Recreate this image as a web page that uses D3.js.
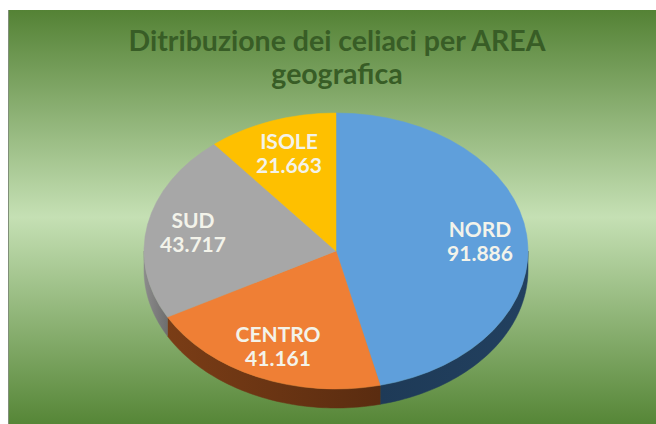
<!DOCTYPE html>
<html><head><meta charset="utf-8">
<script src="https://cdn.jsdelivr.net/npm/d3@7"></script>
<style>html,body{margin:0;padding:0;background:#fff;}svg{display:block;}</style>
</head><body>
<svg id="c" width="656" height="424"></svg>
<script>
const categories = ["NORD", "CENTRO", "SUD", "ISOLE"];
const values = [91.886, 41.161, 43.717, 21.663];
const valueLabels = ["91.886", "41.161", "43.717", "21.663"];
const topColors = ["#5f9fdb", "#ef7f35", "#a7a7a7", "#fec000"];
const sideColors = [["#1e3a57", "#22405f"], ["#7a3d16", "#5a2c10"], ["#8c8c8c", "#6e6e6e"], ["#b38600", "#8a6800"]];
const titleLines = ["Ditribuzione dei celiaci per AREA", "geografica"];

(function () {
const W = 656, H = 424;
const svg = d3.select("#c");
const defs = svg.append("defs");

const bg = defs.append("linearGradient").attr("id", "bg").attr("x1", 0).attr("y1", 0).attr("x2", 0).attr("y2", 1);
bg.append("stop").attr("offset", "0%").attr("stop-color", "#548235");
bg.append("stop").attr("offset", "50%").attr("stop-color", "#c5e0b4");
bg.append("stop").attr("offset", "100%").attr("stop-color", "#568637");
svg.append("rect").attr("x", 8).attr("y", 10).attr("width", W - 8).attr("height", H - 10).attr("fill", "url(#bg)");
svg.append("line").attr("x1", 8.5).attr("x2", 8.5).attr("y1", 10).attr("y2", H).attr("stroke", "#7f8f78").attr("stroke-width", 1);

const title = svg.append("text").attr("text-anchor", "middle")
  .style("font-family", "Lato, 'Open Sans', sans-serif").style("font-weight", "bold")
  .style("font-size", "28.5px").attr("fill", "#385d26");
titleLines.forEach((t, i) => title.append("tspan").attr("x", 337).attr("y", 51 + i * 33).text(t));

const cx = 336, cy = 251, rx = 192, ry = 138, depth = 19;
const pie = d3.pie().sort(null).value(d => d);
const arcs = pie(values);

const g = svg.append("g");

function ept(a, dy) { return [cx + rx * Math.sin(a), cy - ry * Math.cos(a) + dy]; }
arcs.forEach((a, i) => {
  const s = Math.max(a.startAngle, Math.PI / 2), e = Math.min(a.endAngle, 3 * Math.PI / 2);
  if (e <= s) return;
  const gid = "side" + i;
  const lg = defs.append("linearGradient").attr("id", gid).attr("gradientUnits", "userSpaceOnUse")
    .attr("x1", ept(s, 0)[0]).attr("x2", ept(e, 0)[0]).attr("y1", 0).attr("y2", 0);
  lg.append("stop").attr("offset", "0%").attr("stop-color", sideColors[i][1]);
  lg.append("stop").attr("offset", "100%").attr("stop-color", sideColors[i][0]);
  const n = 60, pts = [];
  for (let k = 0; k <= n; k++) pts.push(ept(s + (e - s) * k / n, 0));
  for (let k = n; k >= 0; k--) pts.push(ept(s + (e - s) * k / n, depth));
  g.append("path").attr("d", d3.line()(pts) + "Z").attr("fill", "url(#" + gid + ")")
    .attr("stroke", "url(#" + gid + ")").attr("stroke-width", 0.5);
});

const arc = d3.arc().innerRadius(0).outerRadius(rx);
const face = g.append("g").attr("transform", `translate(${cx},${cy}) scale(1,${ry / rx})`);
face.selectAll("path").data(arcs).join("path").attr("d", arc)
  .attr("fill", (d, i) => topColors[i]).attr("stroke", (d, i) => topColors[i]).attr("stroke-width", 0.6);

const labelPos = [[480, 230], [278, 335], [193, 221], [289, 142]];
arcs.forEach((a, i) => {
  const t = svg.append("text").attr("text-anchor", "middle")
    .style("font-family", "Lato, 'Open Sans', sans-serif").style("font-weight", "bold")
    .style("font-size", "21px").attr("fill", "#f3f3ea");
  t.append("tspan").attr("x", labelPos[i][0]).attr("y", labelPos[i][1] + 7).text(categories[i]);
  t.append("tspan").attr("x", labelPos[i][0]).attr("y", labelPos[i][1] + 31).text(valueLabels[i]);
});
})();
</script>
</body></html>
